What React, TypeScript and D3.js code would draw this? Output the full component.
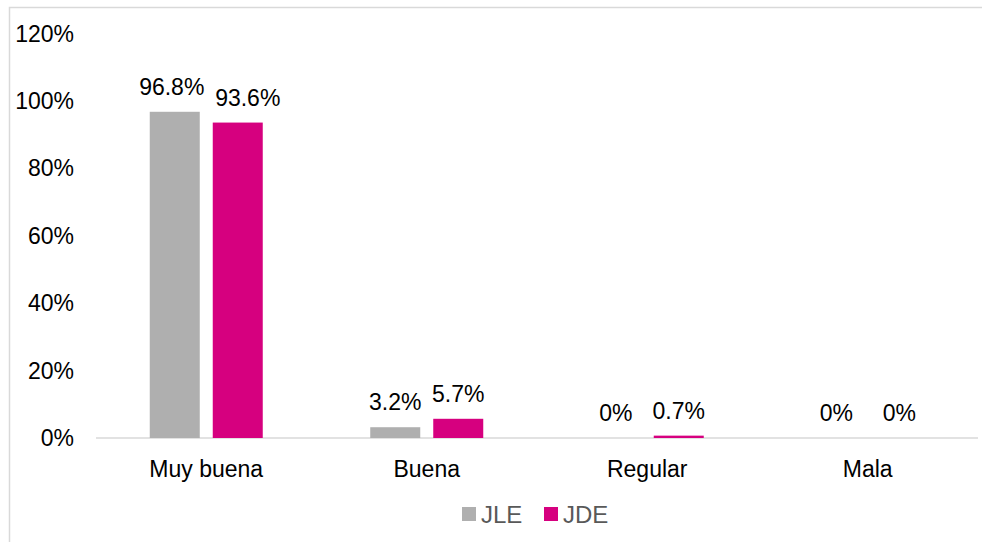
import React from "react";
import * as d3 from "d3";

const categories = ["Muy buena", "Buena", "Regular", "Mala"];
const seriesNames = ["JLE", "JDE"];
const jleValues = [96.8, 3.2, 0, 0];
const jdeValues = [93.6, 5.7, 0.7, 0];
const yTicks = [0, 20, 40, 60, 80, 100, 120];
const colors = ["#AFAFAF", "#D6007F"];

export default function App() {
  const W = 982, H = 542;
  const left = 96, right = 978, top = 33.6, bottom = 438;
  const x = d3.scaleBand<string>().domain(categories).range([left, right]);
  const y = d3.scaleLinear().domain([0, 120]).range([bottom, top]);
  const barW = 50, gap = 13;
  const series = [jleValues, jdeValues];
  const font = "'Liberation Sans', Arial, sans-serif";
  const charW = 13.2;
  return (
    <svg width={W} height={H} style={{ position: "absolute", left: 0, top: 0 }} fontFamily={font}>
      <rect x={0} y={0} width={W} height={H} fill="#fff" />
      <rect x={9.5} y={7.5} width={W + 20} height={H + 20} fill="none" stroke="#D9D9D9" strokeWidth={1.5} />
      {yTicks.map((t) => (
        <text key={t} x={74} y={y(t) + 8} textAnchor="end" fontSize={23} fill="#000">
          {t}%
        </text>
      ))}
      <line x1={left} x2={right} y1={bottom} y2={bottom} stroke="#D9D9D9" strokeWidth={1.5} />
      {categories.map((c, i) => {
        const cx = (x(c) as number) + x.bandwidth() / 2;
        const groupW = barW * 2 + gap;
        const labels = series.map((vals, s) => {
          const v = vals[i];
          const bx = cx - groupW / 2 + s * (barW + gap);
          return { v, bx, lx: bx + barW / 2, ly: y(v) - 17, w: `${v}%`.length * charW };
        });
        // resolve overlap between the two labels (as the source chart does)
        const [a, b] = labels;
        const overlap = a.lx + a.w / 2 + 4 - (b.lx - b.w / 2);
        if (overlap > 0 && Math.abs(a.ly - b.ly) < 22) {
          a.lx -= 3;
          b.lx += overlap + 3;
        }
        return (
          <g key={c}>
            {labels.map((L, s) => (
              <g key={s}>
                <rect x={L.bx} y={y(L.v)} width={barW} height={bottom - y(L.v)} fill={colors[s]} />
                <text x={L.lx} y={L.ly} textAnchor="middle" fontSize={23} fill="#000">
                  {L.v}%
                </text>
              </g>
            ))}
            <text x={cx} y={bottom + 39} textAnchor="middle" fontSize={23} fill="#000">
              {c}
            </text>
          </g>
        );
      })}
      {seriesNames.map((n, s) => {
        const lx = 462 + s * 82;
        return (
          <g key={n}>
            <rect x={lx} y={507} width={14} height={14} fill={colors[s]} />
            <text x={lx + 19} y={523} fontSize={24} fill="#595959">
              {n}
            </text>
          </g>
        );
      })}
    </svg>
  );
}
